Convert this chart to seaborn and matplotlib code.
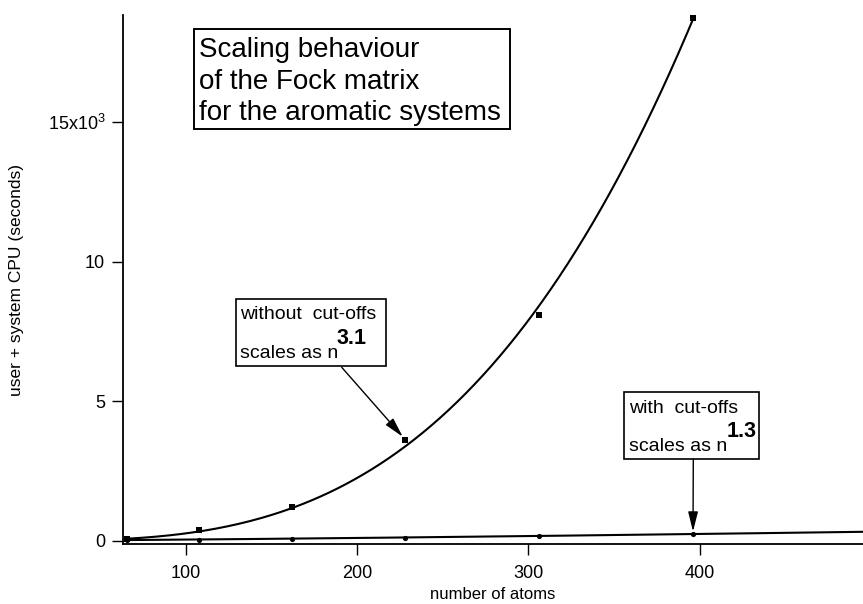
import numpy as np
import pandas as pd
import matplotlib
matplotlib.use("Agg")
import matplotlib.pyplot as plt
from matplotlib.patches import Rectangle
import seaborn as sns

# ---- data ----
n_atoms = [66, 108, 162, 228, 306, 396]
cpu_without = [60, 380, 1220, 3610, 8090, 18740]   # seconds, without cut-offs
cpu_with = [25, 40, 60, 110, 180, 240]             # seconds, with cut-offs
exp_without = 3.1
exp_with = 1.3
ytick_vals = [0, 5000, 10000, 15000]
ytick_labels = ["0", "5", "10", "15x10$^{3}$"]
xtick_vals = [100, 200, 300, 400]

sns.set_theme(style="ticks")
plt.rcParams["font.family"] = ["Liberation Sans", "DejaVu Sans"]
plt.rcParams["mathtext.fontset"] = "custom"
plt.rcParams["mathtext.rm"] = "Liberation Sans"
plt.rcParams["mathtext.bf"] = "Liberation Sans:bold"
plt.rcParams["mathtext.it"] = "Liberation Sans:italic"
for k in ["text.color", "axes.labelcolor", "xtick.color", "ytick.color",
          "axes.edgecolor"]:
    plt.rcParams[k] = "black"

W, H = 863, 604
fig = plt.figure(figsize=(W / 100, H / 100), dpi=100)
x0, x1, ytop, ybot = 123.3, 863, 15, 544
ax = fig.add_axes([x0 / W, 1 - ybot / H, (x1 - x0) / W, (ybot - ytop) / H])

n = np.array(n_atoms, float)
yw = np.array(cpu_without, float)
yc = np.array(cpu_with, float)

# least-squares prefactor for fixed exponents
a_w = np.sum(yw * n**exp_without) / np.sum(n**(2 * exp_without))
a_c = np.sum(yc * n**exp_with) / np.sum(n**(2 * exp_with))

xmin, xmax = 63.6, 495.4
g1 = np.linspace(n.min(), n.max(), 200)
g2 = np.linspace(n.min(), xmax, 200)
fit_w = pd.DataFrame({"n": g1, "t": a_w * g1**exp_without})
fit_c = pd.DataFrame({"n": g2, "t": a_c * g2**exp_with})
pts = pd.DataFrame({"n": n_atoms, "w": cpu_without, "c": cpu_with})

sns.lineplot(data=fit_w, x="n", y="t", ax=ax, color="black", lw=1.5)
sns.lineplot(data=fit_c, x="n", y="t", ax=ax, color="black", lw=1.5)
sns.scatterplot(data=pts, x="n", y="w", ax=ax, marker="s", s=16, color="black",
                edgecolor="black", linewidth=0, zorder=5)
sns.scatterplot(data=pts, x="n", y="c", ax=ax, marker="o", s=14, color="black",
                edgecolor="black", linewidth=0, zorder=5)

ax.set_xlim(xmin, xmax)
ax.set_ylim(-118, 18830)
ax.set_xticks(xtick_vals)
ax.set_xticklabels([str(v) for v in xtick_vals])
ax.set_yticks(ytick_vals)
ax.set_yticklabels(ytick_labels)
sns.despine(ax=ax)
for s in ["left", "bottom"]:
    ax.spines[s].set_linewidth(1.3)
    ax.spines[s].set_color("black")
ax.tick_params(axis="both", direction="out", length=8, width=1, colors="black",
               labelsize=13)
ax.tick_params(axis="x", pad=7)
ax.tick_params(axis="y", pad=5)
ax.set_xlabel("number of atoms", fontsize=12, labelpad=4)
ax.set_ylabel("user + system CPU (seconds)", fontsize=12.5, labelpad=17)
ax.grid(False)


def P(x, y):
    return (x / W, 1 - y / H)


def box(xa, ya, xb, yb, lw=1.2):
    fig.add_artist(Rectangle(P(xa, yb), (xb - xa) / W, (yb - ya) / H,
                             transform=fig.transFigure, fill=False,
                             edgecolor="black", lw=lw, zorder=10))


# title box
box(194.3, 29.3, 510, 129.3, lw=1.4)
for txt, yb in [("Scaling behaviour", 57.3), ("of the Fock matrix", 89.3),
                ("for the aromatic systems", 120.5)]:
    fig.text(*P(198.5, yb), txt, fontsize=20, va="baseline", ha="left")

# without cut-offs box
box(236, 299.3, 386, 366)
fig.text(*P(240, 319.3), "without  cut-offs", fontsize=14, va="baseline")
fig.text(*P(240, 358.3), "scales as n", fontsize=14, va="baseline")
fig.text(*P(337, 344.3), "3.1", fontsize=15.5, fontweight="bold", va="baseline")

# with cut-offs box
box(624, 391.7, 759, 459)
fig.text(*P(629.3, 413.3), "with  cut-offs", fontsize=14, va="baseline")
fig.text(*P(629.3, 451), "scales as n", fontsize=14, va="baseline")
fig.text(*P(726.5, 437.3), "1.3", fontsize=15.5, fontweight="bold", va="baseline")

arrow = dict(arrowstyle="-|>,head_length=1.0,head_width=0.25", color="black",
             lw=1.0, shrinkA=0, shrinkB=0)
ax.annotate("", xy=P(402.7, 436.7), xytext=P(341.7, 367.3),
            xycoords="figure fraction", textcoords="figure fraction",
            arrowprops=arrow)
ax.annotate("", xy=P(693, 531.5), xytext=P(693.3, 459),
            xycoords="figure fraction", textcoords="figure fraction",
            arrowprops=arrow)

fig.savefig("out.png", dpi=100)
